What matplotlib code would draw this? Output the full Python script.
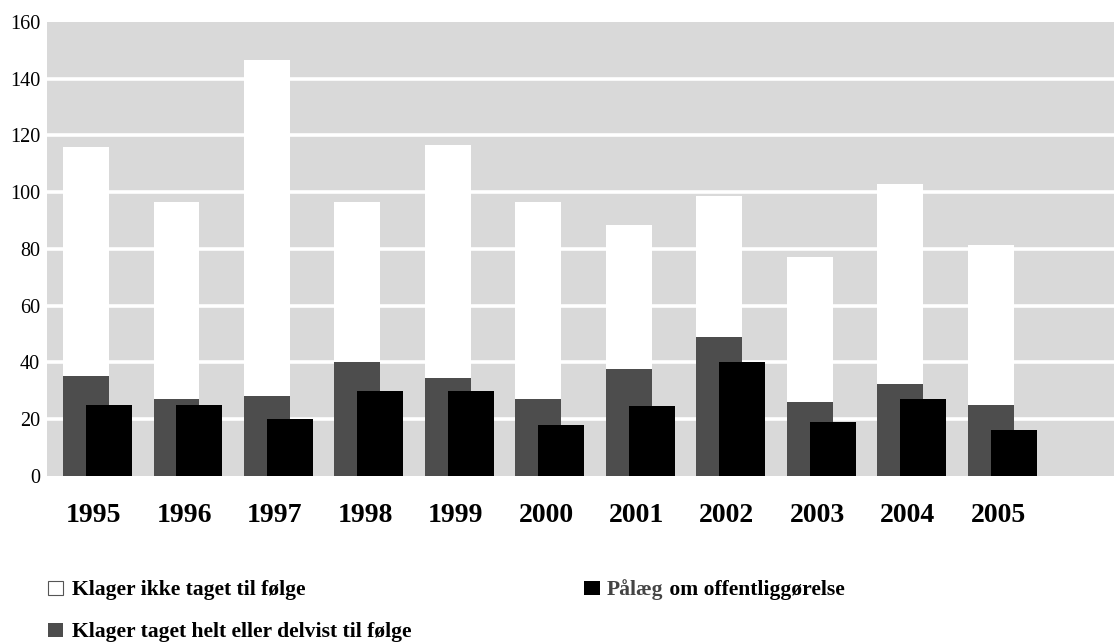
import matplotlib.pyplot as plt
import matplotlib.transforms as mtransforms
from matplotlib.patches import Rectangle
import numpy as np

plt.rcParams["font.family"] = ["Liberation Serif", "DejaVu Serif"]

years = ["1995", "1996", "1997", "1998", "1999", "2000",
         "2001", "2002", "2003", "2004", "2005"]
# Klager taget helt eller delvist til følge
taget = [35, 27, 28, 40, 34.5, 27, 37.5, 49, 26, 32.5, 25]
# Klager ikke taget til følge (stacked on top of taget)
ikke_taget = [81, 69.5, 118.5, 56.5, 82, 69.5, 51, 49.5, 51, 70.5, 56.5]
# Pålæg om offentliggørelse
paalaeg = [25, 25, 20, 30, 30, 18, 24.5, 40, 19, 27, 16]

W, H = 1114, 643
fig = plt.figure(figsize=(W / 100, H / 100), dpi=100)
ax = fig.add_axes([47 / W, (H - 475.7) / H, 1 - 47 / W, (475.7 - 22) / H])
ax.set_facecolor("#d9d9d9")

x = np.arange(len(years))
bw = 0.508

ax.bar(x, ikke_taget, bw, bottom=taget, color="white", zorder=3)
ax.bar(x, taget, bw, color="#4d4d4d", zorder=3)
ax.bar(x + bw / 2, paalaeg, bw, color="black", zorder=4)

ax.set_ylim(0, 160)
ax.set_xlim(-0.431, 11.36)
ax.set_yticks(range(0, 161, 20))
ax.tick_params(axis="y", length=0, pad=5, labelsize=14.5)
ax.set_xticks([])
for s in ax.spines.values():
    s.set_visible(False)
for v in range(20, 160, 20):
    ax.axhline(v, color="white", lw=2.6, zorder=1)

trans = mtransforms.blended_transform_factory(ax.transData, fig.transFigure)
for i, yr in enumerate(years):
    ax.text(i + 0.083, 1 - 522 / H, yr, transform=trans, ha="center",
            va="baseline", fontsize=20, fontweight="bold")

# legend
def fy(py):
    return 1 - py / H

fig.patches.append(Rectangle((48 / W, fy(595)), 15 / W, 14 / H, transform=fig.transFigure,
                             facecolor="white", edgecolor="#555555", lw=0.8))
fig.patches.append(Rectangle((48 / W, fy(637)), 15 / W, 14 / H, transform=fig.transFigure,
                             facecolor="#4d4d4d", edgecolor="none"))
fig.patches.append(Rectangle((584 / W, fy(595)), 16 / W, 14 / H, transform=fig.transFigure,
                             facecolor="black", edgecolor="none"))

fs = 15.6
fig.text(72 / W, fy(595), "Klager ikke taget til følge", fontsize=fs,
         fontweight="bold", va="baseline")
fig.text(72 / W, fy(637), "Klager taget helt eller delvist til følge", fontsize=fs,
         fontweight="bold", va="baseline")
t = fig.text(607 / W, fy(595), "Pålæg", fontsize=fs, fontweight="bold",
             va="baseline", color="#444444")
fig.canvas.draw()
bb = t.get_window_extent()
fig.text(bb.x1 / W, fy(595), " om offentliggørelse", fontsize=fs,
         fontweight="bold", va="baseline")

fig.savefig("out.png", dpi=100)
